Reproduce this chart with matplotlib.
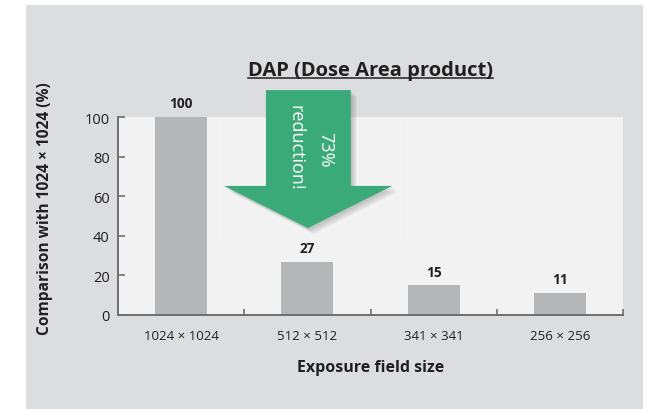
import matplotlib
matplotlib.use('Agg')
import matplotlib.pyplot as plt
from matplotlib.patches import Polygon, Rectangle
from matplotlib.lines import Line2D
from matplotlib.transforms import offset_copy

# ---- data ----
categories = ['1024 × 1024', '512 × 512', '341 × 341', '256 × 256']
values = [100, 27, 15, 11]
y_ticks = [0, 20, 40, 60, 80, 100]
title = 'DAP (Dose Area product)'
xlabel = 'Exposure field size'
ylabel = 'Comparison with 1024 × 1024 (%)'
arrow_lines = ['73%', 'reduction!']

FONT = ['Open Sans', 'DejaVu Sans']
plt.rcParams['font.family'] = FONT
TXT = '#231f20'
AXC = '#6d6e70'

W, H = 659, 410
fig = plt.figure(figsize=(W / 100, H / 100), dpi=100)
fig.patch.set_facecolor('white')
fig.patches.append(Rectangle((26 / W, 0), (643 - 26) / W, 404 / H,
                             transform=fig.transFigure, facecolor='#dcdddf',
                             edgecolor='none', zorder=-10))

ax = fig.add_axes([118 / W, 94 / H, 505 / W, 198 / H])
ax.set_facecolor('#f2f2f2')
x = list(range(len(categories)))
ax.bar(x, values, width=0.41, color='#b5b6b8', zorder=2)
ax.set_xlim(-0.5, len(categories) - 0.5)
ax.set_ylim(0, 100)

for s in ['top', 'right']:
    ax.spines[s].set_visible(False)
for s in ['left', 'bottom']:
    ax.spines[s].set_color(AXC)
    ax.spines[s].set_linewidth(1.4)

ax.set_yticks(y_ticks)
ax.set_yticklabels([str(v) for v in y_ticks])
ax.tick_params(axis='y', direction='in', length=5, width=1.2, color=AXC,
               labelsize=10.5, labelcolor=TXT, pad=6)
ax.set_xticks(x)
ax.set_xticklabels(categories)
ax.tick_params(axis='x', which='major', length=0, labelsize=9.5, labelcolor=TXT, pad=10)
ax.set_xticks([i + 0.5 for i in x], minor=True)
ax.tick_params(axis='x', which='minor', direction='in', length=4, width=1.2, color=AXC)

for xi, v in zip(x, values):
    ax.annotate(str(v), (xi, v), xytext=(0, 7), textcoords='offset points',
                ha='center', va='baseline', fontsize=9.8, fontweight='bold',
                color=TXT, annotation_clip=False)

# faint panel behind arrow
ax.add_patch(Rectangle((0.208, 0.374), 0.356, 0.626, transform=ax.transAxes,
                       facecolor='#f3f3f3', edgecolor='#eeeeee', lw=0.5, zorder=1))

# arrow (axes fraction)
arrow_pts = [(0.293, 1.136), (0.461, 1.136), (0.461, 0.652), (0.543, 0.652),
             (0.376, 0.439), (0.210, 0.652), (0.293, 0.652)]
for k in range(1, 6):
    tr = offset_copy(ax.transAxes, fig=fig, x=1.2 * k, y=-1.2 * k, units='dots')
    ax.add_patch(Polygon(arrow_pts, closed=True, transform=tr, facecolor='#555555',
                         edgecolor='none', alpha=0.07, zorder=4, clip_on=False))
ax.add_patch(Polygon(arrow_pts, closed=True, transform=ax.transAxes,
                     facecolor='#3aaa78', edgecolor='none', zorder=5, clip_on=False))
ax.text(0.410, 0.838, arrow_lines[0], transform=ax.transAxes, rotation=-90,
        ha='center', va='center', color='white', fontsize=13, zorder=6)
ax.text(0.352, 0.848, arrow_lines[1], transform=ax.transAxes, rotation=-90,
        ha='center', va='center', color='white', fontsize=13, zorder=6)

# labels
t = fig.text(370.5 / W, (H - 76) / H, title, ha='center', va='baseline',
             fontsize=14.5, fontweight='bold', color=TXT)
fig.text(370.5 / W, (H - 368) / H, xlabel, ha='center', va='center',
         fontsize=11.5, fontweight='bold', color=TXT)
fig.text(45 / W, (H - 208.5) / H, ylabel, ha='center', va='center', rotation=90,
         fontsize=11.2, fontweight='bold', color=TXT)

fig.canvas.draw()
bb = t.get_window_extent()
uy = (H - 78.5) / H
fig.lines.append(Line2D([bb.x0 / W, bb.x1 / W], [uy, uy], transform=fig.transFigure,
                        color=TXT, lw=1.1))

fig.savefig('out.png', dpi=100, facecolor='white')
